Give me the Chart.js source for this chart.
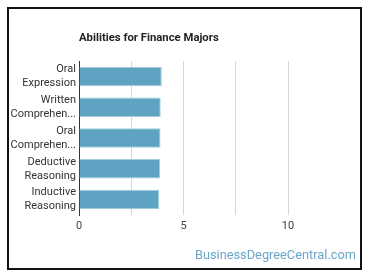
<!DOCTYPE html>
<html>
<head>
<meta charset="utf-8">
<script src="https://cdn.jsdelivr.net/npm/chart.js@4"></script>
<style>
  body { margin: 0; background: #fff; }
  #wrap { position: relative; width: 370px; height: 278px; }
  #frame { position: absolute; left: 7px; top: 7px; width: 351px; height: 259px; border: 2px solid #111; }
  #title { position: absolute; left: 79px; top: 31px; font: bold 11.3px Roboto, sans-serif; color: #222; }
  #mark { position: absolute; right: 14px; top: 247px; font: 12.8px Roboto, sans-serif; color: #6aa6c6; }
  canvas { position: absolute; left: 0; top: 0; }
</style>
</head>
<body>
<div id="wrap">
  <div id="frame"></div>
  <canvas id="abilityChart" width="370" height="278"></canvas>
  <div id="title">Abilities for Finance Majors</div>
  <div id="mark">BusinessDegreeCentral.com</div>
</div>
<script>
const categories = ["Oral Expression", "Written Comprehension", "Oral Comprehension", "Deductive Reasoning", "Inductive Reasoning"];
const scores = [3.96, 3.91, 3.9, 3.88, 3.84];
const tickLabels = [0, 5, 10];

function wrapLabel(text) {
  return text.split(" ").map(function (w) {
    return w.length > 10 ? w.slice(0, 9) + "..." : w;
  });
}

const ctx = document.getElementById("abilityChart").getContext("2d");
const abilityChart = new Chart(ctx, {
  type: "bar",
  data: {
    labels: categories,
    datasets: [
      {
        data: scores,
        backgroundColor: "rgba(94, 163, 194, 1)",
        borderColor: "rgba(160, 205, 224, 1)",
        borderWidth: 1,
        barPercentage: 0.79,
        categoryPercentage: 0.8,
      },
    ],
  },
  options: {
    indexAxis: "y",
    responsive: false,
    animation: false,
    layout: {
      padding: { left: 10, right: 82, top: 61, bottom: 0 },
    },
    plugins: {
      legend: { display: false },
      title: { display: false },
      tooltip: { enabled: false },
    },
    scales: {
      x: {
        min: 0,
        max: 10,
        afterFit: function (scale) { scale.height = 63; },
        ticks: {
          stepSize: 2.5,
          padding: 5,
          color: "#444",
          font: { family: "Roboto", size: 11 },
          callback: function (value) {
            return tickLabels.includes(value) ? value : "";
          },
        },
        border: { display: false },
        grid: {
          drawTicks: false,
          color: "rgba(215, 215, 215, 1)",
        },
      },
      y: {
        afterFit: function (scale) { scale.width = 69; },
        ticks: {
          autoSkip: false,
          padding: 3,
          color: "#333",
          font: { family: "Roboto", size: 11, lineHeight: 1.27 },
          callback: function (value, index) {
            return wrapLabel(categories[index]);
          },
        },
        border: { display: true, color: "#333", width: 1 },
        grid: { display: false, drawTicks: false },
      },
    },
  },
});
</script>
</body>
</html>
